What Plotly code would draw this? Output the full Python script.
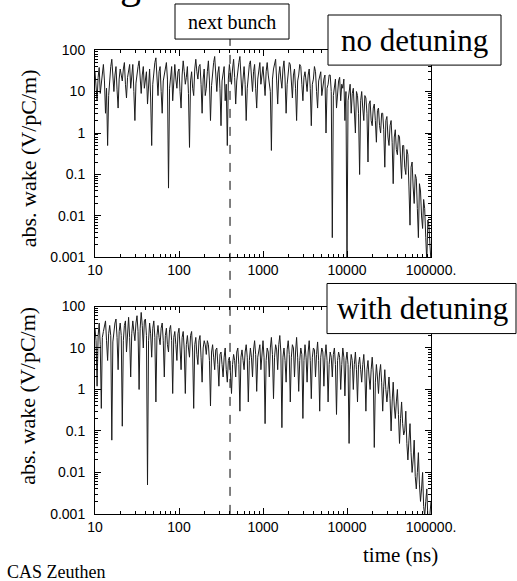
import plotly.graph_objects as go

W, H = 517, 581

time_ns = [
    10, 10.29, 10.59, 10.9, 11.22, 11.55, 11.89, 12.23, 12.59, 12.96,
    13.34, 13.72, 14.13, 14.54, 14.96, 15.4, 15.85, 16.31, 16.79, 17.28,
    17.78, 18.3, 18.84, 19.39, 19.95, 20.54, 21.13, 21.75, 22.39, 23.04,
    23.71, 24.41, 25.12, 25.85, 26.61, 27.38, 28.18, 29.01, 29.85, 30.73,
    31.62, 32.55, 33.5, 34.47, 35.48, 36.52, 37.58, 38.68, 39.81, 40.97,
    42.17, 43.4, 44.67, 45.97, 47.32, 48.7, 50.12, 51.58, 53.09, 54.64,
    56.23, 57.88, 59.57, 61.31, 63.1, 64.94, 66.83, 68.79, 70.79, 72.86,
    74.99, 77.18, 79.43, 81.75, 84.14, 86.6, 89.13, 91.73, 94.41, 97.16,
    100, 102.9, 105.9, 109, 112.2, 115.5, 118.9, 122.3, 125.9, 129.6,
    133.4, 137.2, 141.3, 145.4, 149.6, 154, 158.5, 163.1, 167.9, 172.8,
    177.8, 183, 188.4, 193.9, 199.5, 205.4, 211.3, 217.5, 223.9, 230.4,
    237.1, 244.1, 251.2, 258.5, 266.1, 273.8, 281.8, 290.1, 298.5, 307.3,
    316.2, 325.5, 335, 344.7, 354.8, 365.2, 375.8, 386.8, 398.1, 409.7,
    421.7, 434, 446.7, 459.7, 473.2, 487, 501.2, 515.8, 530.9, 546.4,
    562.3, 578.8, 595.7, 613.1, 631, 649.4, 668.3, 687.9, 707.9, 728.6,
    749.9, 771.8, 794.3, 817.5, 841.4, 866, 891.3, 917.3, 944.1, 971.6,
    1000, 1029, 1059, 1090, 1122, 1155, 1189, 1223, 1259, 1296,
    1334, 1372, 1413, 1454, 1496, 1540, 1585, 1631, 1679, 1728,
    1778, 1830, 1884, 1939, 1995, 2054, 2113, 2175, 2239, 2304,
    2371, 2441, 2512, 2585, 2661, 2738, 2818, 2901, 2985, 3073,
    3162, 3255, 3350, 3447, 3548, 3652, 3758, 3868, 3981, 4097,
    4217, 4340, 4467, 4597, 4732, 4870, 5012, 5158, 5309, 5464,
    5623, 5788, 5957, 6131, 6310, 6494, 6683, 6879, 7079, 7286,
    7499, 7718, 7943, 8175, 8414, 8660, 8913, 9173, 9441, 9716,
    10000, 10290, 10590, 10900, 11220, 11550, 11890, 12230, 12590, 12960,
    13340, 13720, 14130, 14540, 14960, 15400, 15850, 16310, 16790, 17280,
    17780, 18300, 18840, 19390, 19950, 20540, 21130, 21750, 22390, 23040,
    23710, 24410, 25120, 25850, 26610, 27380, 28180, 29010, 29850, 30730,
    31620, 32550, 33500, 34470, 35480, 36520, 37580, 38680, 39810, 40970,
    42170, 43400, 44670, 45970, 47320, 48700, 50120, 51580, 53090, 54640,
    56230, 57880, 59570, 61310, 63100, 64940, 66830, 68790, 70790, 72860,
    74990, 77180, 79430, 81750, 84140, 86600, 89130, 91730, 94410, 97160,
    100000,
]

wake_no_detuning = [
    30, 14, 6, 22, 38, 9, 15, 28, 45, 18, 3, 12, 0.5, 8, 25, 40, 60, 20, 10, 25,
    40, 11, 4, 20, 35, 25, 18, 35, 50, 15, 7, 22, 30, 45, 12, 20, 45, 10, 2, 16,
    28, 40, 55, 18, 9, 25, 40, 12, 20, 30, 5, 14, 35, 7, 0.5, 15, 30, 50, 65, 22,
    8, 30, 40, 10, 3, 18, 25, 35, 50, 20, 0.047, 12, 30, 40, 6, 25, 45, 20, 12, 30,
    35, 10, 4, 25, 55, 30, 15, 22, 40, 9, 0.45, 18, 30, 12, 8, 35, 60, 30, 20, 40,
    45, 15, 3, 20, 35, 8, 12, 30, 55, 18, 2, 14, 30, 50, 70, 20, 10, 28, 40, 12,
    1.5, 18, 25, 40, 6, 15, 0.5, 20, 45, 25, 15, 35, 60, 22, 5, 18, 35, 50, 70, 25,
    8, 20, 40, 15, 2, 12, 30, 45, 55, 20, 10, 30, 45, 12, 4, 20, 35, 50, 15, 28,
    40, 18, 8, 30, 50, 25, 15, 10, 0.38, 20, 35, 45, 60, 18, 5, 25, 40, 20, 12, 35,
    55, 20, 3, 15, 30, 50, 45, 15, 7, 25, 35, 12, 2, 18, 25, 45, 40, 15, 6, 22,
    30, 18, 10, 25, 35, 12, 1.5, 15, 20, 40, 30, 10, 4, 18, 25, 30, 8, 15, 20, 25,
    1, 12, 15, 25, 25, 10, 0.003, 8, 15, 20, 4, 12, 18, 22, 6, 15, 12, 20, 2, 10,
    0.0008, 6, 10, 15, 3, 9, 12, 4, 1, 10, 8, 3, 0.1, 6, 10, 4, 2, 8, 7, 3,
    0.2, 5, 6, 2, 1.5, 4, 5, 2, 0.6, 3.5, 4, 1.5, 1, 3, 3, 1.2, 0.15, 2, 2.5, 0.8,
    0.5, 1.5, 2, 0.6, 0.06, 0.8, 1.2, 0.4, 0.3, 0.9, 0.8, 0.25, 0.08, 0.5, 0.5, 0.15, 0.1, 0.4, 0.3, 0.05,
    0.006, 0.15, 0.2, 0.05, 0.02, 0.1, 0.08, 0.015, 0.003, 0.06, 0.04, 0.01, 0.005, 0.025, 0.015, 0.003, 0.0008, 0.008, 0.006, 0.002,
    0.0008,
]

wake_with_detuning = [
    30, 15, 1.2, 20, 40, 12, 0.35, 18, 25, 35, 45, 15, 5, 22, 35, 20, 0.06, 14, 30, 40,
    50, 18, 3, 25, 40, 20, 0.13, 15, 35, 45, 8, 30, 55, 18, 2, 22, 45, 25, 15, 40,
    60, 25, 1, 30, 72, 35, 10, 45, 50, 20, 0.005, 15, 40, 22, 6, 30, 45, 18, 0.5, 20,
    35, 18, 12, 30, 40, 15, 2, 20, 30, 12, 8, 28, 35, 15, 0.8, 18, 25, 12, 5, 22,
    30, 10, 3, 18, 25, 9, 0.8, 12, 20, 10, 6, 20, 25, 8, 0.35, 12, 18, 7, 4, 15,
    20, 6, 1.5, 10, 15, 12, 7, 15, 12, 5, 0.4, 8, 12, 6, 3, 9, 10, 4, 1.2, 7,
    8, 4, 2, 6, 10, 3, 1.5, 5, 6, 2.5, 0.8, 4, 7, 5, 2, 8, 10, 4, 0.3, 6,
    9, 5, 3, 8, 12, 6, 0.5, 5, 10, 6, 2, 9, 15, 7, 0.9, 6, 10, 12, 3, 8,
    15, 6, 0.15, 5, 10, 8, 2, 10, 18, 7, 0.6, 6, 12, 9, 3, 12, 20, 8, 0.12, 6,
    10, 5, 1.5, 9, 15, 7, 0.5, 6, 12, 10, 2, 8, 18, 6, 0.9, 5, 10, 7, 0.2, 5,
    12, 6, 1.5, 8, 15, 5, 0.6, 6, 10, 9, 2, 7, 14, 5, 0.3, 6, 10, 8, 1.2, 6,
    12, 5, 0.5, 4, 8, 6, 2, 7, 10, 4, 0.25, 5, 8, 6, 1, 4, 10, 6, 0.7, 5,
    8, 4, 0.05, 3, 7, 5, 1, 4, 8, 3, 0.5, 4, 6, 3, 1.5, 4, 7, 2.5, 0.3, 3,
    5, 2, 1, 3, 6, 2.5, 0.04, 1.5, 4, 2, 0.8, 2.5, 4, 1.5, 0.3, 1.2, 3, 1, 0.5, 1,
    2, 0.6, 0.1, 0.5, 1.5, 0.4, 0.2, 0.5, 1, 0.25, 0.05, 0.2, 0.5, 0.15, 0.08, 0.1, 0.3, 0.05, 0.02, 0.06,
    0.15, 0.03, 0.01, 0.02, 0.06, 0.008, 0.004, 0.01, 0.03, 0.005, 0.002, 0.004, 0.01, 0.0015, 0.0009, 0.002, 0.004, 0.0008, 0.0008, 0.001,
    0.002,
]

assert len(time_ns) == len(wake_no_detuning) == len(wake_with_detuning), (
    len(time_ns), len(wake_no_detuning), len(wake_with_detuning))

x_tick_vals = [10, 100, 1000, 10000, 100000]
x_tick_text = ["10", "100", "1000", "10000", "100000."]
y_tick_vals = [0.001, 0.01, 0.1, 1, 10, 100]
y_tick_text = ["0.001", "0.01", "0.1", "1", "10", "100"]
next_bunch_ns = 405

x_minor_vals = [m * d for d in (10, 100, 1000, 10000) for m in range(2, 10)]
y_minor_vals = [m * d for d in (0.001, 0.01, 0.1, 1, 10) for m in range(2, 10)]

SERIF = "Liberation Serif"
SANS = "Liberation Sans"

# observed drawing area of the page: offset 8px, about 484 x 564 px
OX, OY, WE, HE = 8, 8, 484, 564


def px_x(p):
    return (p - OX) / WE


def px_y(p):
    return 1 - (p - OY) / HE


fig = go.Figure()
fig.add_trace(go.Scatter(x=time_ns, y=wake_no_detuning, mode="lines",
                         line=dict(color="#1c1c1c", width=1),
                         xaxis="x", yaxis="y", showlegend=False))
fig.add_trace(go.Scatter(x=time_ns, y=wake_with_detuning, mode="lines",
                         line=dict(color="#1c1c1c", width=1),
                         xaxis="x2", yaxis="y2", showlegend=False))

x_dom = [px_x(95), px_x(431)]
common = dict(type="log", showgrid=False, zeroline=False, showline=True,
              linecolor="black", linewidth=1, mirror="ticks", ticks="inside",
              ticklen=6, tickcolor="black", tickwidth=1, tickmode="array",
              tickfont=dict(family=SANS, size=14, color="black"))
x_common = dict(common, range=[1, 5], tickvals=x_tick_vals, ticktext=x_tick_text,
                ticklabelstandoff=0,
                minor=dict(tickmode="array", tickvals=x_minor_vals, ticks="inside",
                           ticklen=3, tickcolor="black", showgrid=False))
y_common = dict(common, range=[-3, 2], tickvals=y_tick_vals, ticktext=y_tick_text,
                ticklabelstandoff=6,
                minor=dict(tickmode="array", tickvals=y_minor_vals, ticks="inside",
                           ticklen=3, tickcolor="black", showgrid=False))

fig.update_layout(
    width=W, height=H, autosize=False,
    margin=dict(l=0, r=0, t=0, b=0),
    paper_bgcolor="white", plot_bgcolor="white",
    xaxis=dict(domain=x_dom, anchor="y", **x_common),
    yaxis=dict(domain=[px_y(257), px_y(50)], anchor="x", **y_common),
    xaxis2=dict(domain=x_dom, anchor="y2", **x_common),
    yaxis2=dict(domain=[px_y(513), px_y(306)], anchor="x2", **y_common),
)

shapes = [
    dict(type="line", xref="x", yref="paper", x0=next_bunch_ns, x1=next_bunch_ns,
         y0=px_y(513), y1=px_y(39), line=dict(color="black", width=1, dash="dash"),
         layer="above"),
    dict(type="rect", xref="paper", yref="paper", x0=px_x(175), x1=px_x(289),
         y0=px_y(39), y1=px_y(4), fillcolor="white", line=dict(color="black", width=1),
         layer="above"),
    dict(type="rect", xref="paper", yref="paper", x0=px_x(328), x1=px_x(501),
         y0=px_y(65), y1=px_y(15), fillcolor="white", line=dict(color="black", width=1),
         layer="above"),
    dict(type="rect", xref="paper", yref="paper", x0=px_x(327), x1=px_x(516),
         y0=px_y(333), y1=px_y(283), fillcolor="white", line=dict(color="black", width=1),
         layer="above"),
]
fig.update_layout(shapes=shapes)

ann = [
    dict(text="next bunch", x=px_x(232), y=px_y(22), font=dict(family=SERIF, size=20)),
    dict(text="no detuning", x=px_x(414), y=px_y(40), font=dict(family=SERIF, size=31)),
    dict(text="with detuning", x=px_x(422), y=px_y(308), font=dict(family=SERIF, size=31)),
    dict(text="abs. wake (V/pC/m)", x=px_x(28), y=px_y(158), textangle=-90,
         font=dict(family=SERIF, size=22)),
    dict(text="abs. wake (V/pC/m)", x=px_x(28), y=px_y(395), textangle=-90,
         font=dict(family=SERIF, size=22)),
    dict(text="time (ns)", x=px_x(400), y=px_y(554), font=dict(family=SERIF, size=21)),
    dict(text="CAS Zeuthen", x=px_x(5), y=px_y(571), xanchor="left",
         font=dict(family=SERIF, size=18)),
    dict(text="g", x=px_x(130), y=px_y(9), yanchor="bottom",
         font=dict(family=SERIF, size=42)),
]
for a in ann:
    a.setdefault("xanchor", "center")
    a.setdefault("yanchor", "middle")
    a.update(xref="paper", yref="paper", showarrow=False)
    a["font"]["color"] = "black"
fig.update_layout(annotations=ann)

fig.write_html("out.html",
               config={"responsive": False, "displayModeBar": False},
               post_script="document.body.style.margin='0';document.body.style.overflow='hidden';")
